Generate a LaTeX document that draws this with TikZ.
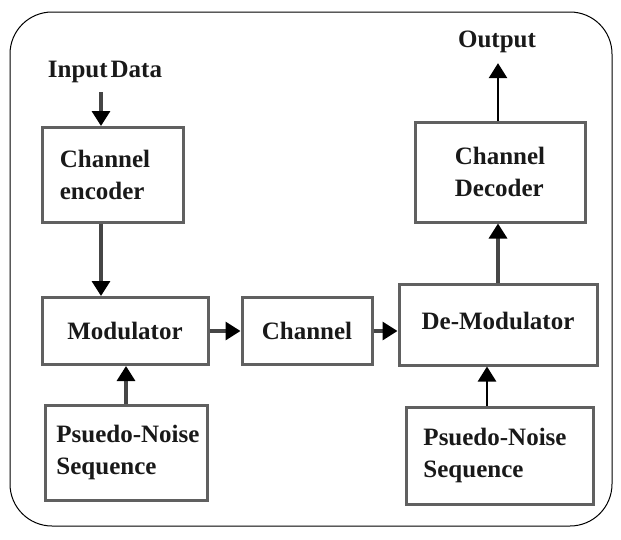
\documentclass[tikz,border=0pt]{standalone}
\usepackage{fontspec}
\setmainfont{Liberation Serif}
\usetikzlibrary{arrows.meta}
\begin{document}
\begin{tikzpicture}[x=1pt,y=-1pt,
  blk/.style={draw=gray!75!black, line width=3pt, fill=white, inner sep=0pt},
  lbl/.style={font=\fontsize{25}{32}\selectfont\bfseries, align=left, text=black!90},
  arr/.style={draw=gray!55!black, line width=3.2pt, -{Triangle[width=18pt,length=15pt,color=black]}},
  arrb/.style={draw=black, line width=2.6pt, -{Triangle[width=18pt,length=15pt,color=black]}}]
\useasboundingbox (0,0) rectangle (621,539);
\draw[line width=1pt, rounded corners=42pt] (10,12) rectangle (612,526);

\node[blk, minimum width=141pt, minimum height=95pt] (enc) at (112.5,175) {};
\node[lbl] at (105,175) {Channel\\encoder};
\node[blk, minimum width=166pt, minimum height=67pt] (mod) at (125,331) {};
\node[lbl] at (125,331) {Modulator};
\node[blk, minimum width=130pt, minimum height=67pt] (chan) at (307,331) {};
\node[lbl] at (307,331) {Channel};
\node[blk, minimum width=198pt, minimum height=81pt] (demod) at (498,324.5) {};
\node[lbl] at (498,321) {De-Modulator};
\node[blk, minimum width=170pt, minimum height=100pt] (dec) at (500,172) {};
\node[lbl] at (500,172) {Channel\\Decoder};
\node[blk, minimum width=162pt, minimum height=95pt] (pn1) at (126,452.5) {};
\node[lbl] at (128,452.5) {Psuedo-Noise\\Sequence};
\node[blk, minimum width=187pt, minimum height=97pt] (pn2) at (499.5,455.5) {};
\node[lbl] at (495,455.5) {Psuedo-Noise\\Sequence};

\node[lbl, inner sep=0pt] (inp) at (105,72) {Input\hspace{0.12em}Data};
\node[lbl, inner sep=0pt] (out) at (497,42) {Output};

\draw[arr] ([xshift=-4pt,yshift=-9pt]inp.south) -- ([xshift=-11.5pt]enc.north);
\draw[arr] ([xshift=-11.5pt]enc.south) -- ([xshift=-11.5pt]enc.south |- mod.north);
\draw[arr] (mod.east) -- (mod.east -| chan.west);
\draw[arr] (chan.east) -- (chan.east -| demod.west);
\draw[arr] (pn1.north) -- (pn1.north |- mod.south);
\draw[arrb] ([xshift=-12.5pt]pn2.north) -- ([xshift=-12.5pt]pn2.north |- demod.south);
\draw[arr] (demod.north) -- (demod.north |- dec.south);
\draw[arrb] ([xshift=-2pt]dec.north) -- ([xshift=1pt,yshift=-10pt]out.south);
\end{tikzpicture}
\end{document}
